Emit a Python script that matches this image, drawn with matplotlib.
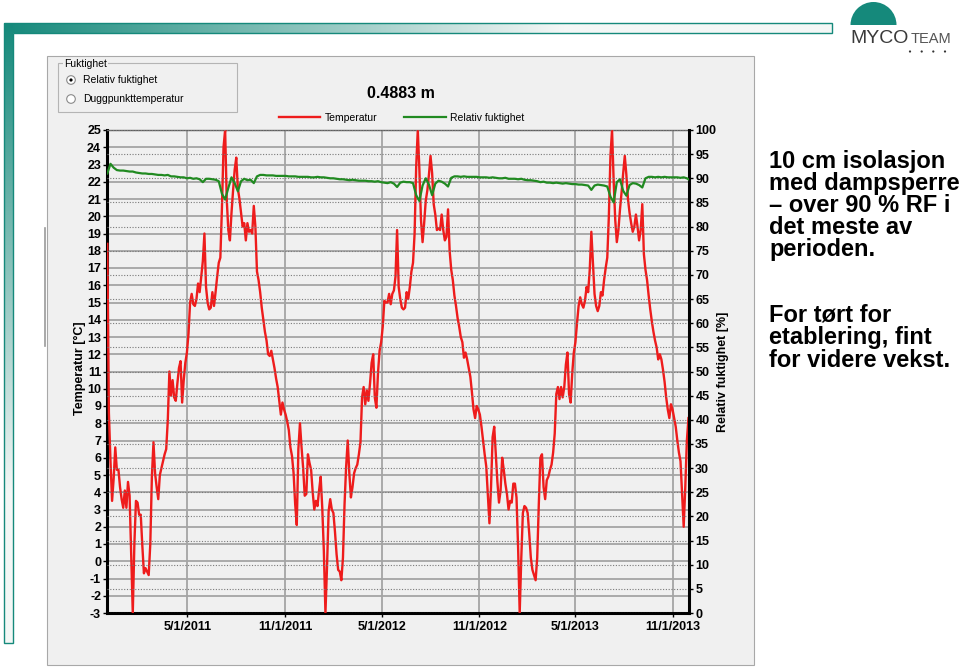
import matplotlib
matplotlib.use("Agg")
import matplotlib.pyplot as plt
import matplotlib.ticker as mticker
import numpy as np
import pandas as pd
from matplotlib.patches import Circle, Polygon, Rectangle, Wedge

plt.rcParams["font.family"] = ["Liberation Sans", "DejaVu Sans"]
plt.rcParams["axes.unicode_minus"] = False

W, H = 960, 668
TEAL = "#15897b"
RED = "#ee1c1c"
GREEN = "#218a21"
PANEL = "#f0f0f0"
GRID = "#a4a4a4"

# temperature [°C], one value every 3 days from 1 Dec 2010
temp_2011 = [
    18.4, 8.6, 5.8, 3.5, 4.8, 6.6, 5.3, 5.3, 4.3, 3.6,
    3.1, 4.1, 3.1, 4.6, 3.8, 0.4, -3.0, 1.0, 3.5, 3.4,
    2.7, 2.7, 0.9, -0.7, -0.4, -0.6, -0.8, 1.0, 4.9, 6.9,
    5.1, 4.3, 3.6, 5.0, 5.4, 5.8, 6.2, 6.5, 8.2, 11.0,
    9.6, 10.5, 9.5, 9.3, 10.3, 11.2, 11.6, 9.2, 10.5, 11.5,
    12.1, 13.2, 15.0, 15.5, 14.9, 14.8, 15.2, 16.1, 15.6, 16.5,
    17.4, 19.0, 15.9, 15.0, 14.6, 14.7, 15.6, 14.8, 15.6, 16.5,
    17.3, 17.6, 20.5, 24.0, 25.0, 21.0, 19.2, 18.6, 20.2, 21.5,
    22.7, 23.4, 21.6, 21.0, 20.2, 19.4, 19.6, 18.6, 19.6, 19.1,
    19.2, 19.0, 20.6, 19.4, 16.8, 16.3, 15.6, 14.7, 14.0, 13.3,
    12.8, 12.0, 11.9, 12.2, 11.7, 11.2, 10.6, 10.1, 9.3, 8.5,
    9.2, 8.8, 8.5, 8.1, 7.6, 6.6, 6.1, 5.1, 3.3, 2.1,
    6.5, 8.0,
]
temp_2012 = [
    6.6, 5.4, 3.8, 3.9, 6.2, 5.7, 5.3, 4.0, 3.0, 3.5,
    3.2, 4.1, 4.9, 3.1, 0.6, -3.0, -0.3, 2.9, 3.6, 3.0,
    2.8, 1.7, 0.4, -0.5, -0.6, -1.1, 0.2, 3.3, 5.5, 7.0,
    5.1, 3.7, 4.3, 5.1, 5.4, 5.6, 6.2, 6.9, 9.5, 10.1,
    9.1, 9.9, 9.3, 10.3, 11.5, 12.0, 9.5, 8.9, 10.9, 12.2,
    12.7, 13.6, 15.1, 15.0, 15.0, 15.5, 14.9, 15.5, 15.7, 16.5,
    19.2, 15.9, 15.2, 14.7, 14.6, 14.7, 15.6, 15.2, 15.9, 16.8,
    17.3, 19.0, 22.9, 25.0, 22.7, 19.8, 18.5, 19.6, 20.9, 21.5,
    22.4, 23.5, 22.5, 20.7, 20.1, 19.2, 19.3, 19.2, 20.1, 19.2,
    18.6, 18.8, 20.4, 18.0, 16.9, 16.3, 15.4, 14.8, 14.1, 13.6,
    13.0, 12.7, 11.8, 12.1, 11.7, 11.2, 10.7, 9.8, 8.8, 8.3,
    9.0, 8.8, 8.5, 7.8, 7.0, 6.2, 5.5, 3.8, 2.2, 4.3,
    7.2, 7.8,
]
temp_2013 = [
    6.2, 4.6, 3.4, 4.1, 6.0, 5.3, 4.5, 3.9, 3.0, 3.5,
    3.4, 4.5, 4.5, 3.7, 0.8, -3.0, 0.2, 2.8, 3.2, 3.1,
    2.8, 1.6, 0.2, -0.5, -0.8, -1.1, 0.2, 3.3, 6.0, 6.2,
    4.3, 3.6, 4.7, 4.9, 5.3, 5.6, 6.3, 7.4, 9.7, 10.1,
    9.4, 10.1, 9.5, 10.1, 11.4, 12.1, 9.7, 9.2, 10.9, 12.1,
    12.7, 13.8, 14.8, 15.3, 14.9, 14.7, 15.1, 15.9, 15.6, 16.9,
    19.1, 17.3, 15.5, 14.8, 14.5, 14.8, 15.6, 15.4, 16.3, 17.0,
    17.6, 20.0, 23.5, 25.0, 22.1, 19.8, 18.5, 19.2, 20.4, 21.4,
    22.5, 23.5, 22.4, 21.0, 20.2, 19.6, 19.1, 19.4, 20.1, 19.4,
    18.6, 19.2, 20.7, 17.8, 16.9, 16.3, 15.4, 14.6, 13.9, 13.3,
    12.8, 12.4, 11.7, 12.0, 11.7, 11.1, 10.4, 9.5, 8.8, 8.3,
    9.1, 8.8, 8.3, 7.8, 7.0, 6.3, 5.8, 3.9, 2.0, 4.3,
    7.0, 8.3,
]

# relative humidity [%], one value every 6 days from 1 Dec 2010
rh_2011 = [
    91.0, 93.0, 92.2, 91.7, 91.6, 91.6, 91.5, 91.4, 91.4, 91.2,
    91.1, 91.0, 91.0, 90.9, 90.9, 90.8, 90.7, 90.7, 90.6, 90.7,
    90.4, 90.4, 90.3, 90.2, 90.2, 90.0, 90.1, 89.9, 90.0, 89.8,
    89.2, 89.9, 89.9, 89.8, 89.7, 89.4, 86.8, 85.6, 88.0, 90.2,
    89.0, 87.3, 89.4, 89.9, 89.6, 89.7, 89.0, 90.4, 90.7, 90.7,
    90.6, 90.6, 90.6, 90.5, 90.5, 90.5, 90.5, 90.4, 90.4, 90.4,
    90.3,
]
rh_2012 = [
    90.3, 90.3, 90.3, 90.2, 90.2, 90.3, 90.2, 90.2, 90.1, 90.0,
    90.0, 89.9, 89.8, 89.8, 89.7, 89.6, 89.7, 89.6, 89.5, 89.5,
    89.5, 89.4, 89.4, 89.3, 89.4, 89.2, 89.1, 89.0, 89.2, 88.9,
    88.2, 89.1, 89.3, 89.2, 89.2, 89.0, 86.5, 85.3, 88.5, 90.0,
    88.7, 86.5, 88.9, 89.5, 89.3, 88.9, 88.3, 90.1, 90.4, 90.4,
    90.3, 90.4, 90.3, 90.3, 90.3, 90.3, 90.2, 90.2, 90.2, 90.1,
    90.2,
]
rh_2013 = [
    90.1, 90.0, 90.0, 90.1, 89.9, 89.9, 89.9, 89.8, 89.9, 89.7,
    89.6, 89.6, 89.5, 89.4, 89.2, 89.3, 89.1, 89.1, 89.0, 89.1,
    89.0, 88.9, 89.0, 88.9, 88.8, 88.8, 88.7, 88.7, 88.6, 88.5,
    87.6, 88.5, 88.7, 88.6, 88.5, 88.3, 86.2, 85.0, 89.2, 89.8,
    87.4, 86.4, 88.6, 89.0, 88.9, 88.6, 88.1, 90.0, 90.3, 90.3,
    90.2, 90.3, 90.2, 90.3, 90.2, 90.2, 90.2, 90.2, 90.1, 90.2,
    90.0, 89.6,
]

tick_dates = ["2011-05-01", "2011-11-01", "2012-05-01", "2012-11-01", "2013-05-01", "2013-11-01"]
tick_labels = ["5/1/2011", "11/1/2011", "5/1/2012", "11/1/2012", "5/1/2013", "11/1/2013"]

temperature = temp_2011 + temp_2012 + temp_2013
humidity = rh_2011 + rh_2012 + rh_2013
temp_dates = pd.date_range("2010-12-01", periods=len(temperature), freq="3D")
rh_dates = pd.date_range("2010-12-01", periods=len(humidity), freq="6D")


def px_box(x0, y0, x1, y1):
    return [x0 / W, 1 - y1 / H, (x1 - x0) / W, (y1 - y0) / H]


def blend(c0, c1, t):
    c0 = np.array(matplotlib.colors.to_rgb(c0))
    c1 = np.array(matplotlib.colors.to_rgb(c1))
    return c0[None, :] * (1 - t[:, None]) + c1[None, :] * t[:, None]


fig = plt.figure(figsize=(W / 100, H / 100), dpi=100)
bg = fig.add_axes([0, 0, 1, 1])
bg.set_autoscale_on(False)
bg.set_xlim(0, W)
bg.set_ylim(H, 0)
bg.axis("off")

# slide frame (teal L with gradient)
n = 400
t = np.clip(np.linspace(0, 1, n) * 828 / 560, 0, 1)
bg.imshow(blend(TEAL, "#f4f7f6", t)[None, :, :], extent=(4, 832, 33, 23), aspect="auto", zorder=1)
t = np.clip(np.linspace(0, 1, n) * 620 / 470, 0, 1)
bg.imshow(blend(TEAL, "#f4f7f6", t)[:, None, :], extent=(4, 12.5, 643, 23), aspect="auto", zorder=1)
bg.add_patch(Polygon([(4, 23), (832, 23), (832, 33), (12.5, 33), (12.5, 643), (4, 643)],
                     closed=True, fill=False, edgecolor=TEAL, lw=1, zorder=2))

# screenshot panel
bg.add_patch(Rectangle((47, 56), 707, 609, facecolor=PANEL, edgecolor="#a8a8a8", lw=0.8, zorder=1))
bg.plot([45, 45], [228, 346], color="#9a9a9a", lw=1.2, zorder=1)

# option group
bg.add_patch(Rectangle((58, 63), 179, 49, facecolor="none", edgecolor="#b4b4b4", lw=0.8, zorder=2))
bg.text(64, 64, "Fuktighet", fontsize=7.5, va="center", ha="left", zorder=3,
        bbox=dict(facecolor=PANEL, edgecolor="none", pad=0.5))
for yy, label, on in [(80, "Relativ fuktighet", True), (99, "Duggpunkttemperatur", False)]:
    bg.add_patch(Circle((71, yy), 4.3, facecolor="white", edgecolor="#8a8a8a", lw=0.8, zorder=3))
    if on:
        bg.add_patch(Circle((71, yy), 1.6, facecolor="black", edgecolor="none", zorder=4))
    bg.text(83, yy, label, fontsize=7.5, va="center", ha="left", zorder=3)

bg.text(401, 93, "0.4883 m", fontsize=11.5, fontweight="bold", ha="center", va="center", zorder=3)

bg.text(80, 368, "Temperatur [°C]", rotation=90, fontsize=9, fontweight="bold",
        ha="center", va="center", zorder=3)
bg.text(723, 372, "Relativ fuktighet [%]", rotation=90, fontsize=9, fontweight="bold",
        ha="center", va="center", zorder=3)

# slide text
para1 = ["10 cm isolasjon", "med dampsperre", "– over 90 % RF i", "det meste av", "perioden."]
para2 = ["For tørt for", "etablering, fint", "for videre vekst."]
for i, line in enumerate(para1):
    bg.text(769, 168 + 22 * i, line, fontsize=17, fontweight="bold", ha="left", va="baseline")
for i, line in enumerate(para2):
    bg.text(769, 321 + 23 * i, line, fontsize=17, fontweight="bold", ha="left", va="baseline")

# logo
bg.add_patch(Wedge((873.5, 25), 23, 180, 360, facecolor=TEAL, edgecolor="none"))
bg.text(850, 43, "MYCO", fontsize=14, color="#3a3a3a", ha="left", va="baseline")
bg.text(910.5, 43, "TEAM", fontsize=10.5, color="#555555", ha="left", va="baseline")
for xx in (910, 921.7, 933.3, 945):
    bg.add_patch(Circle((xx, 51.5), 1.1, facecolor="#333333", edgecolor="none"))

# chart
ax = fig.add_axes(px_box(107.3, 130, 689, 613))
ax.set_facecolor(PANEL)
l_temp, = ax.plot(temp_dates, temperature, color=RED, lw=1.7, zorder=3)
ax.set_xlim(pd.Timestamp("2010-12-01"), pd.Timestamp("2013-12-01"))
ax.set_ylim(-3, 25)
ax.yaxis.set_major_locator(mticker.MultipleLocator(1))
ax.set_xticks(pd.to_datetime(tick_dates))
ax.set_xticklabels(tick_labels)
ax.set_axisbelow(True)
ax.grid(True, color=GRID, lw=1.3)
ax.tick_params(axis="both", direction="out", length=3, width=1, labelsize=9, pad=1.5)
ax.tick_params(axis="x", pad=2.5)
plt.setp(ax.get_yticklabels(), fontweight="bold")
plt.setp(ax.get_xticklabels(), fontweight="bold")
for side in ("left", "bottom"):
    ax.spines[side].set_linewidth(2.2)
    ax.spines[side].set_color("black")
ax.spines["top"].set_linewidth(1)
ax.spines["top"].set_color("#606060")
ax.spines["right"].set_visible(False)

ax2 = ax.twinx()
l_rh, = ax2.plot(rh_dates, humidity, color=GREEN, lw=1.6, zorder=3)
ax2.set_ylim(0, 100)
ax2.yaxis.set_major_locator(mticker.MultipleLocator(5))
ax2.set_axisbelow(True)
ax2.grid(True, axis="y", color="#7a7a7a", lw=0.8, linestyle=(0, (1, 1.5)))
ax2.tick_params(axis="y", direction="out", length=3, width=1, labelsize=9, pad=1.5)
plt.setp(ax2.get_yticklabels(), fontweight="bold")
for side in ("left", "top", "bottom"):
    ax2.spines[side].set_visible(False)
ax2.spines["right"].set_linewidth(2.2)
ax2.spines["right"].set_color("black")

fig.legend([l_temp, l_rh], ["Temperatur", "Relativ fuktighet"], loc="center",
           bbox_to_anchor=(401.5 / W, 1 - 118 / H), ncol=2, frameon=False, fontsize=7.5,
           handlelength=4, handletextpad=0.4, columnspacing=2.6, borderpad=0)

fig.savefig("out.png", dpi=100, facecolor="white")
